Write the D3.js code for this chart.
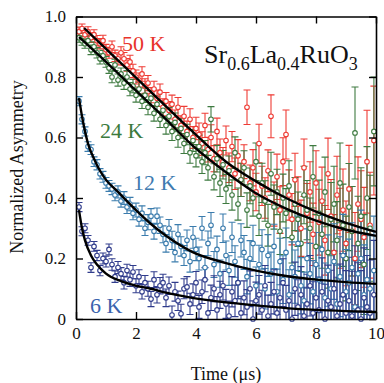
<!DOCTYPE html>
<html><head><meta charset="utf-8">
<script src="https://cdn.jsdelivr.net/npm/d3@7"></script>
<style>html,body{margin:0;padding:0;background:#fff;}svg{display:block;font-family:'Liberation Serif','Times New Roman',serif;}</style>
</head><body>
<script>
// ---- data ----
const times = [0.1,0.2,0.3,0.4,0.5,0.6,0.7,0.8,0.9,1.0,
 1.1,1.2,1.3,1.4,1.5,1.6,1.7,1.8,1.9,2.0,
 2.1,2.2,2.3,2.4,2.5,2.6,2.7,2.8,2.9,3.0,
 3.1,3.2,3.3,3.4,3.5,3.6,3.7,3.8,3.9,4.0,
 4.1,4.2,4.3,4.4,4.5,4.6,4.7,4.8,4.9,5.0,
 5.1,5.2,5.3,5.4,5.5,5.6,5.7,5.8,5.9,6.0,
 6.1,6.2,6.3,6.4,6.5,6.6,6.7,6.8,6.9,7.0,
 7.1,7.2,7.3,7.4,7.5,7.6,7.7,7.8,7.9,8.0,
 8.1,8.2,8.3,8.4,8.5,8.6,8.7,8.8,8.9,9.0,
 9.1,9.2,9.3,9.4,9.5,9.6,9.7,9.8,9.93];

const errs = [.015,.015,.015,.016,.016,.016,.017,.017,.018,.018,
 .018,.019,.019,.02,.02,.021,.021,.022,.022,.023,
 .023,.024,.024,.025,.025,.026,.027,.027,.028,.029,
 .029,.03,.031,.032,.032,.033,.034,.035,.036,.037,
 .038,.039,.04,.041,.042,.043,.044,.045,.047,.048,
 .049,.05,.052,.053,.055,.056,.057,.059,.06,.062,
 .064,.065,.067,.069,.071,.073,.075,.077,.079,.081,
 .083,.085,.088,.09,.093,.095,.098,.10,.103,.106,
 .109,.112,.115,.118,.121,.125,.128,.132,.136,.14,
 .144,.148,.152,.156,.16,.165,.17,.175,.18];

const asy50K = [0.95,0.96,0.94,0.95,0.93,0.94,0.92,0.91,0.92,0.89,
 0.88,0.90,0.87,0.86,0.88,0.86,0.84,0.85,0.82,0.80,
 0.79,0.81,0.77,0.78,0.74,0.76,0.73,0.75,0.70,0.72,
 0.69,0.71,0.66,0.70,0.64,0.67,0.62,0.66,0.60,0.63,
 0.61,0.58,0.64,0.56,0.60,0.53,0.62,0.55,0.52,0.59,
 0.50,0.57,0.48,0.54,0.46,0.52,0.70,0.45,0.50,0.42,
 0.58,0.44,0.40,0.49,0.67,0.38,0.47,0.36,0.52,0.61,
 0.41,0.33,0.46,0.38,0.30,0.50,0.35,0.42,0.28,0.45,
 0.32,0.39,0.26,0.48,0.34,0.22,0.41,0.30,0.36,0.25,
 0.43,0.29,0.20,0.38,0.33,0.27,0.52,0.31,0.59];

const asy24K = [0.93,0.92,0.91,0.92,0.89,0.90,0.88,0.86,0.87,0.85,
 0.83,0.80,0.84,0.79,0.81,0.78,0.80,0.76,0.77,0.74,
 0.76,0.72,0.74,0.70,0.73,0.68,0.71,0.66,0.69,0.64,
 0.67,0.62,0.65,0.60,0.63,0.58,0.61,0.55,0.59,0.54,
 0.57,0.52,0.55,0.50,0.66,0.47,0.53,0.45,0.51,0.43,
 0.49,0.41,0.55,0.38,0.46,0.50,0.36,0.44,0.40,0.52,
 0.34,0.45,0.39,0.31,0.48,0.37,0.42,0.29,0.40,0.35,
 0.44,0.27,0.38,0.33,0.25,0.41,0.36,0.30,0.47,0.24,
 0.35,0.28,0.42,0.22,0.33,0.38,0.26,0.45,0.31,0.20,
 0.37,0.29,0.615,0.25,0.34,0.18,0.40,0.30,0.62];

const asy12K = [0.72,0.66,0.62,0.57,0.56,0.52,0.51,0.48,0.47,0.45,
 0.44,0.43,0.41,0.42,0.39,0.40,0.37,0.38,0.35,0.36,
 0.33,0.35,0.30,0.32,0.34,0.29,0.34,0.31,0.28,0.25,
 0.30,0.26,0.22,0.28,0.24,0.21,0.26,0.19,0.27,0.23,
 0.20,0.30,0.17,0.25,0.31,0.18,0.23,0.15,0.30,0.21,
 0.16,0.27,0.19,0.12,0.26,0.22,0.14,0.20,0.25,0.11,
 0.18,0.23,0.10,0.21,0.15,0.24,0.09,0.19,0.13,0.22,
 0.08,0.17,0.14,0.25,0.11,0.06,0.20,0.15,0.09,0.18,
 0.13,0.23,0.07,0.16,0.10,0.19,0.05,0.14,0.21,0.09,
 0.12,0.17,0.04,0.15,0.20,0.08,0.13,0.10,0.16];

const asy6K = [0.37,0.29,0.30,0.26,0.17,0.24,0.21,0.16,0.20,0.19,
 0.23,0.18,0.14,0.17,0.15,0.12,0.16,0.13,0.155,0.11,
 0.14,0.09,0.12,0.10,0.066,0.13,0.08,0.11,0.12,0.07,
 0.11,0.013,0.09,0.06,0.017,0.10,0.106,0.05,0.08,0.12,
 0.04,0.09,0.13,0.02,0.07,0.10,0.03,0.08,0.11,0.05,
 0.01,0.09,0.06,0.12,0.02,0.07,0.04,0.10,0.00,0.06,
 0.08,0.03,0.11,0.01,0.05,0.09,0.02,0.07,0.12,0.03,
 0.06,0.00,0.10,0.04,0.08,0.01,0.05,0.11,0.02,0.07,
 0.03,0.09,0.00,0.06,0.04,0.10,0.01,0.05,0.08,0.02,
 0.06,0.01,0.09,0.03,0.00,0.07,0.04,0.02,0.08];

// fitted curves
const fit50K_t = [0.27,1,2,3,3.87,5,6,7,8,9,10];
const fit50K_y = [0.962,0.893,0.798,0.703,0.621,0.52,0.455,0.40,0.355,0.318,0.288];
const fit24K_t = [0.1,1,2,3,3.87,5,5.93,7,8,9,10];
const fit24K_y = [0.932,0.85,0.755,0.66,0.575,0.485,0.42,0.365,0.325,0.295,0.275];
const fit12K_t = [0.1,0.2,0.4,0.6,0.8,1,1.4,2,2.5,3,3.87,5,6,7,8,9,10];
const fit12K_y = [0.73,0.67,0.58,0.53,0.49,0.46,0.42,0.36,0.314,0.275,0.222,0.185,0.16,0.142,0.13,0.122,0.116];
const fit6K_t = [0.1,0.2,0.3,0.5,0.7,1,1.5,2,2.5,3,3.87,5,6,7,8,9,10];
const fit6K_y = [0.36,0.3,0.26,0.21,0.18,0.15,0.125,0.11,0.1,0.087,0.07,0.055,0.045,0.036,0.03,0.026,0.023];

const seriesNames = ["50 K","24 K","12 K","6 K"];
const xTicks = [0,2,4,6,8,10];
const yTicks = [0,0.2,0.4,0.6,0.8,1.0];
const yTickLabels = ["0","0.2","0.4","0.6","0.8","1.0"];

// ---- drawing ----
const W = 384, H = 383;
const svg = d3.select("body").append("svg").attr("width", W).attr("height", H);
const x = d3.scaleLinear().domain([0,10]).range([76,376]);
const y = d3.scaleLinear().domain([0,1]).range([319,16.5]);

const series = [
  {name: seriesNames[0], vals: asy50K, ft: fit50K_t, fy: fit50K_y, color: "#ee3b34", lab: "#e8332b", lx: 1.53, ly: 0.886},
  {name: seriesNames[1], vals: asy24K, ft: fit24K_t, fy: fit24K_y, color: "#3e7a40", lab: "#3b7a3d", lx: 0.8, ly: 0.598},
  {name: seriesNames[2], vals: asy12K, ft: fit12K_t, fy: fit12K_y, color: "#3b7cad", lab: "#3f7bb0", lx: 1.9, ly: 0.426},
  {name: seriesNames[3], vals: asy6K, ft: fit6K_t, fy: fit6K_y, color: "#303c8c", lab: "#3a63ad", lx: 0.47, ly: 0.02}
];

svg.append("defs").append("clipPath").attr("id","clip")
  .append("rect").attr("x",76).attr("y",16.5).attr("width",300).attr("height",302.5);

const plot = svg.append("g").attr("clip-path","url(#clip)");
const cap = 3.5;
series.forEach(s => {
  const g = plot.append("g");
  const pts = times.map((t,i)=>({t, v: s.vals[i], e: errs[i]}));
  const eb = g.append("g").attr("stroke", s.color).attr("stroke-width", 1.1).attr("fill","none");
  pts.forEach(p => {
    const xx = x(p.t), y1 = y(p.v + p.e), y2 = y(p.v - p.e);
    eb.append("line").attr("x1",xx).attr("x2",xx).attr("y1",y1).attr("y2",y2);
    eb.append("line").attr("x1",xx-cap).attr("x2",xx+cap).attr("y1",y1).attr("y2",y1);
    eb.append("line").attr("x1",xx-cap).attr("x2",xx+cap).attr("y1",y2).attr("y2",y2);
  });
});
const mk = svg.append("g");
series.forEach(s => {
  mk.append("g").selectAll("circle").data(times.map((t,i)=>({t, v:s.vals[i]}))).join("circle")
    .attr("cx", d=>x(d.t)).attr("cy", d=>y(d.v)).attr("r", 2.3)
    .attr("fill","#fff").attr("stroke", s.color).attr("stroke-width", 1.1);
});

const line = d3.line().x(d=>x(d[0])).y(d=>y(d[1])).curve(d3.curveMonotoneX);
series.forEach(s => {
  svg.append("path").attr("d", line(s.ft.map((t,i)=>[t, s.fy[i]])))
    .attr("fill","none").attr("stroke","#000").attr("stroke-width",2.4);
});

// frame and axes (ticks inward on all sides)
const font = "'Liberation Serif','Times New Roman',serif";
const axB = svg.append("g").attr("transform","translate(0,319)")
  .call(d3.axisBottom(x).tickValues(xTicks).tickSizeInner(-7).tickSizeOuter(0).tickPadding(8).tickFormat(d3.format("d")));
const axT = svg.append("g").attr("transform","translate(0,16.5)")
  .call(d3.axisTop(x).tickValues(xTicks).tickSizeInner(-7).tickSizeOuter(0).tickFormat(""));
const axL = svg.append("g").attr("transform","translate(76,0)")
  .call(d3.axisLeft(y).tickValues(yTicks).tickSizeInner(-7).tickSizeOuter(0).tickPadding(10).tickFormat((d,i)=>yTickLabels[i]));
const axR = svg.append("g").attr("transform","translate(376,0)")
  .call(d3.axisRight(y).tickValues(yTicks).tickSizeInner(-7).tickSizeOuter(0).tickFormat(""));
[axB,axT,axL,axR].forEach(a=>{
  a.attr("font-family",font);
  a.select(".domain").attr("stroke","#000").attr("stroke-width",1.6);
  a.selectAll(".tick line").attr("stroke","#000").attr("stroke-width",1.4);
  a.selectAll("text").attr("font-family",font).attr("font-size",17).attr("fill","#111");
});

// axis titles
svg.append("text").attr("x",226).attr("y",380).attr("text-anchor","middle")
  .attr("font-family",font).attr("font-size",18).attr("fill","#111").text("Time (μs)");
svg.append("text").attr("transform","translate(23,167) rotate(-90)").attr("text-anchor","middle")
  .attr("font-family",font).attr("font-size",18).attr("fill","#111").text("Normalized Asymmetry");

// compound label
const tl = svg.append("text").attr("x",204).attr("y",63).attr("font-family",font).attr("font-size",26).attr("fill","#111");
tl.append("tspan").text("Sr");
tl.append("tspan").attr("font-size",18).attr("dy",7).text("0.6");
tl.append("tspan").attr("dy",-7).text("La");
tl.append("tspan").attr("font-size",18).attr("dy",7).text("0.4");
tl.append("tspan").attr("dy",-7).text("RuO");
tl.append("tspan").attr("font-size",18).attr("dy",7).text("3");

// temperature labels
series.forEach(s => {
  svg.append("text").attr("x", x(s.lx)).attr("y", y(s.ly))
    .attr("font-family",font).attr("font-size",22).attr("fill",s.lab).text(s.name);
});
</script>
</body></html>
